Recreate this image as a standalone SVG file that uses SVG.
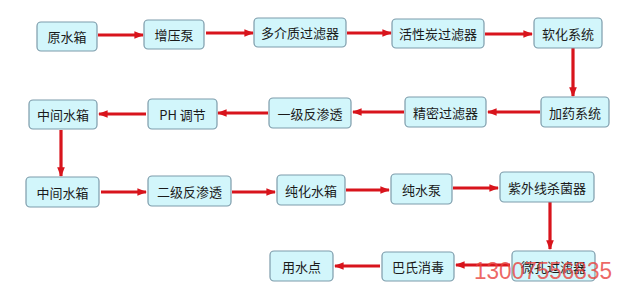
<svg xmlns="http://www.w3.org/2000/svg" width="640" height="303" viewBox="0 0 640 303">
<style>
.n rect{fill:#d2f6fb;stroke:#7d9cab;stroke-width:1.2}
.n text{font-family:"Noto Sans CJK SC","Liberation Sans",sans-serif;font-size:13px;fill:#1a1a1a;text-anchor:middle;dominant-baseline:central}
.c line{stroke:#d8141c;stroke-width:3.2;marker-end:url(#ah)}
.wm{font-family:"Liberation Sans",sans-serif;font-size:23px;fill:#e8403c;fill-opacity:0.8}
</style>
<defs>
<marker id="ah" viewBox="0 0 10 10" refX="9" refY="5" markerWidth="3" markerHeight="3" markerUnits="strokeWidth" orient="auto">
<path d="M0,1 L10,5 L0,9 Z" fill="#d8141c"/>
</marker>
</defs>
<rect width="640" height="303" fill="#ffffff"/>
<g class="c">
<line x1="98" y1="35" x2="143" y2="35"/>
<line x1="206" y1="33" x2="253" y2="33"/>
<line x1="347" y1="33" x2="391" y2="33"/>
<line x1="485" y1="34" x2="532" y2="34"/>
<line x1="573" y1="48" x2="573" y2="96"/>
<line x1="540" y1="112" x2="488" y2="112"/>
<line x1="404" y1="112" x2="353" y2="112"/>
<line x1="268" y1="113" x2="218" y2="113"/>
<line x1="146" y1="114" x2="99" y2="114"/>
<line x1="61" y1="130" x2="61" y2="176"/>
<line x1="101" y1="192" x2="146" y2="192"/>
<line x1="232" y1="192" x2="275" y2="192"/>
<line x1="346" y1="190" x2="389" y2="190"/>
<line x1="453" y1="188" x2="498" y2="188"/>
<line x1="550" y1="202" x2="550" y2="249"/>
<line x1="510" y1="265" x2="456" y2="265"/>
<line x1="380" y1="266" x2="335" y2="266"/>
</g>
<g id="n1" class="n"><rect x="37" y="22" width="60" height="29" rx="4"/><text x="67" y="36.5">原水箱</text></g>
<g id="n2" class="n"><rect x="144" y="20" width="60" height="29" rx="4"/><text x="174" y="34.5">增压泵</text></g>
<g id="n3" class="n"><rect x="254" y="18" width="92" height="29" rx="4"/><text x="300" y="32.5">多介质过滤器</text></g>
<g id="n4" class="n"><rect x="392" y="19" width="92" height="29" rx="4"/><text x="438" y="33.5">活性炭过滤器</text></g>
<g id="n5" class="n"><rect x="534" y="18" width="68" height="30" rx="4"/><text x="568" y="33">软化系统</text></g>
<g id="n6" class="n"><rect x="541" y="97" width="68" height="30" rx="4"/><text x="575" y="112">加药系统</text></g>
<g id="n7" class="n"><rect x="405" y="97" width="81" height="30" rx="4"/><text x="445.5" y="112">精密过滤器</text></g>
<g id="n8" class="n"><rect x="269" y="98" width="82" height="30" rx="4"/><text x="310" y="113">一级反渗透</text></g>
<g id="n9" class="n"><rect x="148" y="99" width="69" height="30" rx="4"/><text x="182.5" y="114">PH 调节</text></g>
<g id="n10" class="n"><rect x="29" y="100" width="68" height="29" rx="4"/><text x="63" y="114.5">中间水箱</text></g>
<g id="n11" class="n"><rect x="26" y="177" width="73" height="30" rx="4"/><text x="62.5" y="192">中间水箱</text></g>
<g id="n12" class="n"><rect x="148" y="176" width="83" height="30" rx="4"/><text x="189.5" y="191">二级反渗透</text></g>
<g id="n13" class="n"><rect x="277" y="175" width="68" height="30" rx="4"/><text x="311" y="190">纯化水箱</text></g>
<g id="n14" class="n"><rect x="391" y="174" width="61" height="30" rx="4"/><text x="421.5" y="189">纯水泵</text></g>
<g id="n15" class="n"><rect x="500" y="172" width="94" height="30" rx="4"/><text x="547" y="187">紫外线杀菌器</text></g>
<g id="n16" class="n"><rect x="512" y="251" width="83" height="30" rx="4"/><text x="553.5" y="266">微孔过滤器</text></g>
<g id="n17" class="n"><rect x="382" y="252" width="72" height="29" rx="4"/><text x="418" y="266.5">巴氏消毒</text></g>
<g id="n18" class="n"><rect x="270" y="251" width="63" height="30" rx="4"/><text x="301.5" y="266">用水点</text></g>
<text class="wm" x="474" y="279" textLength="138" lengthAdjust="spacingAndGlyphs">13007556835</text>
</svg>
